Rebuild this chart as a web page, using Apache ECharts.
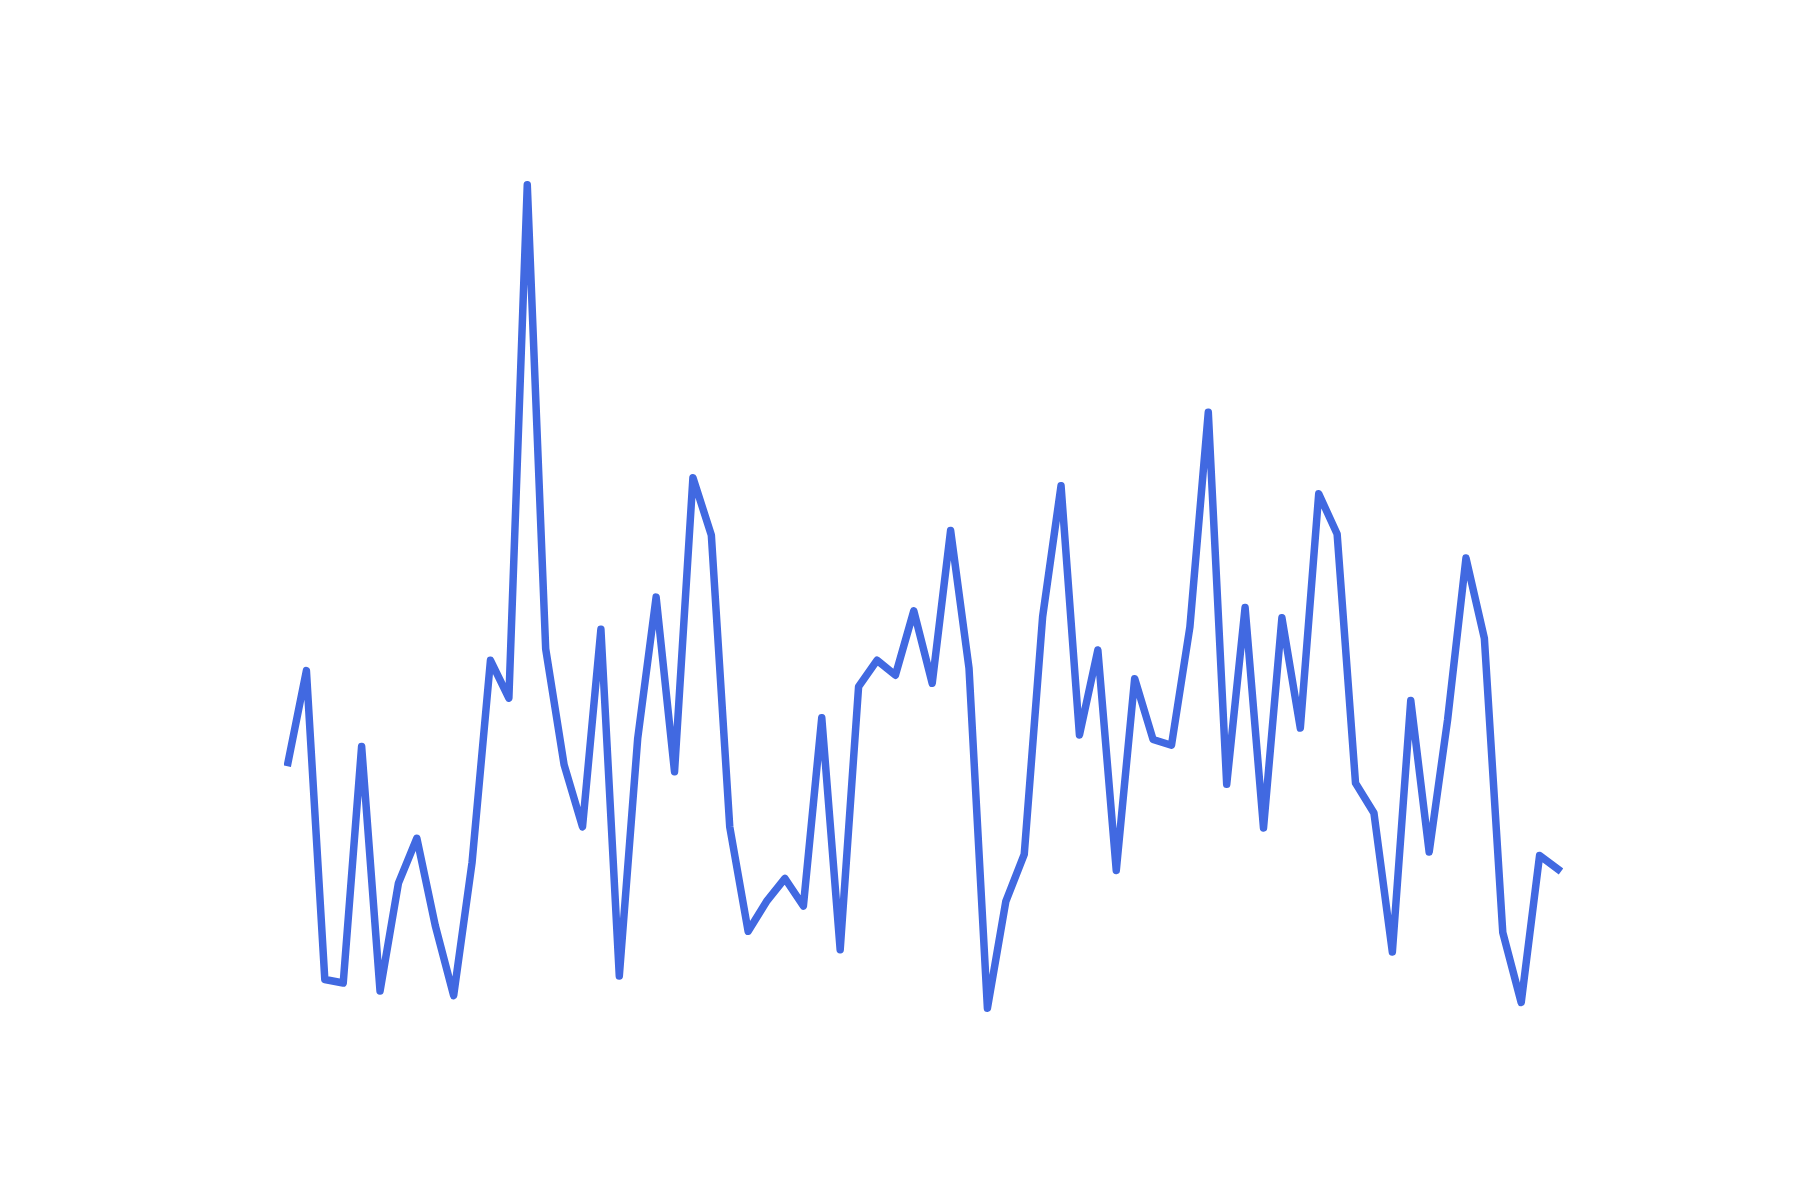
<!DOCTYPE html>
<html>
<head>
<meta charset="utf-8">
<script src="https://cdn.jsdelivr.net/npm/echarts@6/dist/echarts.min.js"></script>
<style>
  html, body { margin: 0; padding: 0; background: #fff; }
  #chart { width: 1800px; height: 1200px; }
</style>
</head>
<body>
<div id="chart"></div>
<script>
// 70 steps, no axes shown in the original
var steps = Array.from({ length: 70 }, function (_, i) { return String(i + 1) })

var values = [
  236, 316, 47, 44, 250, 37, 131, 170, 94, 33,
  149, 325, 292, 739, 335, 234, 180, 352, 50, 257,
  380, 228, 484, 434, 180, 89, 115, 135, 111, 275,
  73, 302, 325, 312, 368, 305, 438, 318, 22, 115,
  156, 363, 477, 260, 334, 142, 309, 256, 251, 354,
  541, 217, 371, 179, 362, 266, 470, 435, 218, 192,
  71, 290, 158, 273, 414, 344, 88, 27, 155, 143
]

var chart = echarts.init(document.getElementById('chart'))
chart.setOption({
  animation: false,
  backgroundColor: '#fff',
  grid: { left: 288, right: 242, top: 114.8, bottom: 166.5 },
  xAxis: {
    type: 'category',
    data: steps,
    boundaryGap: false,
    show: false
  },
  yAxis: {
    type: 'value',
    min: 0,
    max: 800,
    show: false
  },
  series: [
    {
      type: 'line',
      data: values,
      symbol: 'none',
      lineStyle: { color: '#4169E1', width: 7.5, join: 'round', cap: 'square' }
    }
  ]
})
</script>
</body>
</html>
